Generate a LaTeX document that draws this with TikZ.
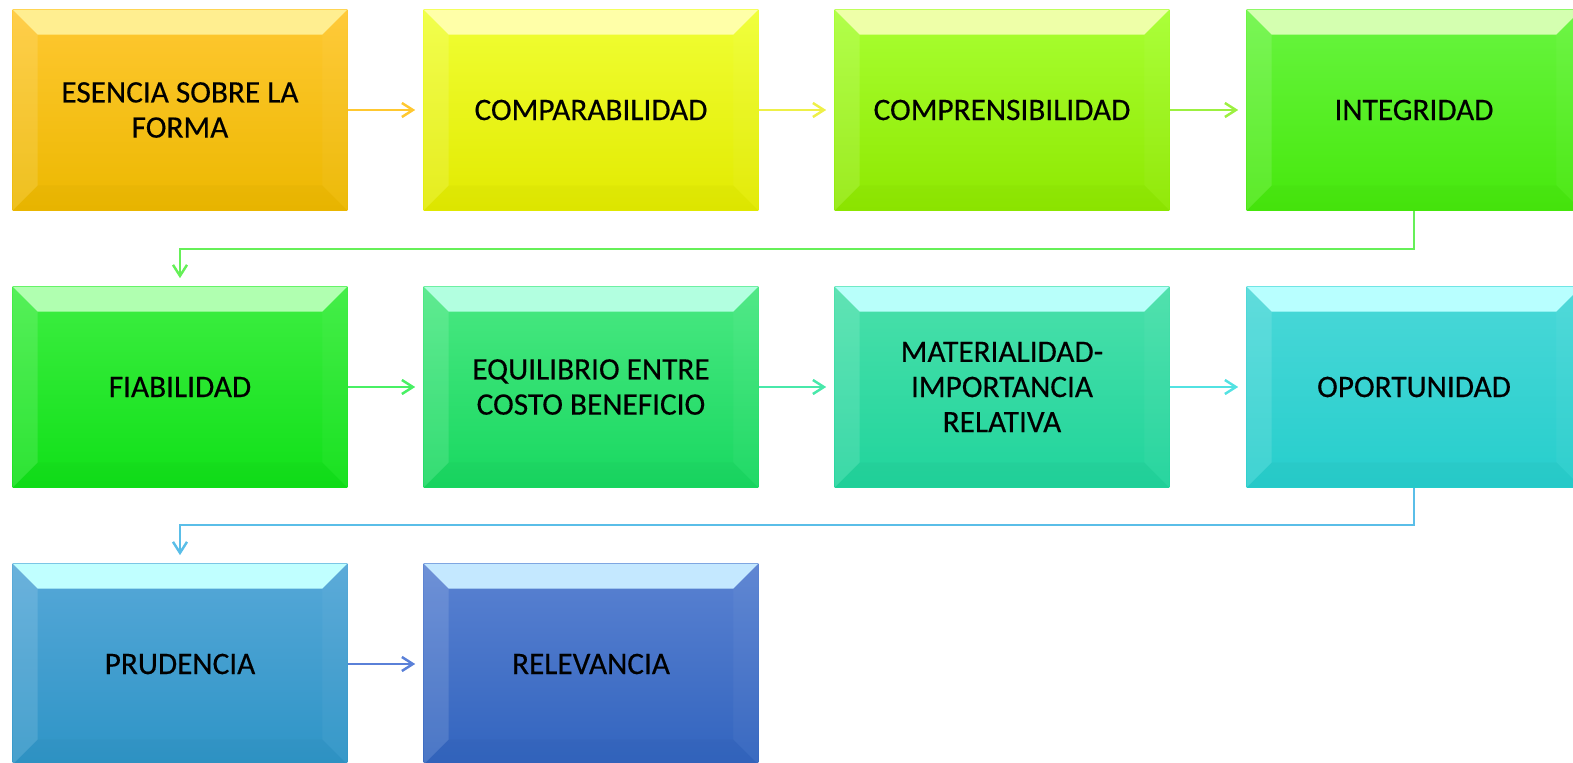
\documentclass[tikz,border=0pt]{standalone}
\usepackage{fontspec}
\setmainfont{Carlito}[FakeBold=0.35]
\usetikzlibrary{arrows.meta,calc}
\newcommand\bv{0.5cm}
% box colours: a = top of face, b = bottom of face, c = top bevel
\definecolor{esenA}{HTML}{FFC832}\definecolor{esenB}{HTML}{ECB800}\definecolor{esenC}{HTML}{FFEE90}
\definecolor{compA}{HTML}{F0FF35}\definecolor{compB}{HTML}{E2EA00}\definecolor{compC}{HTML}{FFFFA8}
\definecolor{prenA}{HTML}{A8FF32}\definecolor{prenB}{HTML}{8EE800}\definecolor{prenC}{HTML}{EEFFA8}
\definecolor{inteA}{HTML}{68F540}\definecolor{inteB}{HTML}{46E80C}\definecolor{inteC}{HTML}{D4FFB0}
\definecolor{fiabA}{HTML}{3EEE42}\definecolor{fiabB}{HTML}{10E018}\definecolor{fiabC}{HTML}{B0FFB0}
\definecolor{equiA}{HTML}{4AE882}\definecolor{equiB}{HTML}{18D860}\definecolor{equiC}{HTML}{B2FFE0}
\definecolor{mateA}{HTML}{4AE0AA}\definecolor{mateB}{HTML}{20D49C}\definecolor{mateC}{HTML}{B8FFFA}
\definecolor{oporA}{HTML}{4AD8D8}\definecolor{oporB}{HTML}{26CECC}\definecolor{oporC}{HTML}{B8FFFF}
\definecolor{prudA}{HTML}{56A8D8}\definecolor{prudB}{HTML}{2E94C6}\definecolor{prudC}{HTML}{C0FFFF}
\definecolor{releA}{HTML}{5A82D2}\definecolor{releB}{HTML}{3264BE}\definecolor{releC}{HTML}{C4E8FF}
% connector colours
\definecolor{l12}{HTML}{FFC830}\definecolor{l23}{HTML}{EEF048}\definecolor{l34}{HTML}{9CF040}
\definecolor{l45}{HTML}{66F058}\definecolor{l56}{HTML}{48F064}\definecolor{l67}{HTML}{48E8AA}
\definecolor{l78}{HTML}{52E2E2}\definecolor{l89}{HTML}{5ABEE8}\definecolor{l910}{HTML}{5A80D8}
\tikzset{
  bevelbox/.style n args={3}{rectangle,minimum width=6.7cm,minimum height=4.02cm,inner sep=0pt,
    top color=#1,bottom color=#2,align=center,text=black,font=\fontsize{17.8}{20}\selectfont,
    path picture={
      \coordinate (nw) at (path picture bounding box.north west);
      \coordinate (ne) at (path picture bounding box.north east);
      \coordinate (sw) at (path picture bounding box.south west);
      \coordinate (se) at (path picture bounding box.south east);
      \fill[#3] (nw) -- (ne) -- ++(-\bv,-\bv) -- ($(nw)+(\bv,-\bv)$) -- cycle;
      \fill[white,opacity=.12] (nw) -- ++(\bv,-\bv) -- ($(sw)+(\bv,\bv)$) -- (sw) -- cycle;
      \fill[white,opacity=.04] (ne) -- ++(-\bv,-\bv) -- ($(se)+(-\bv,\bv)$) -- (se) -- cycle;
      \fill[black,opacity=.02] (sw) -- ++(\bv,\bv) -- ($(se)+(-\bv,\bv)$) -- (se) -- cycle;
    }},
  link/.style={-{Straight Barb[length=2.2mm,width=2.8mm]},line width=1.4pt,shorten >=0.16cm}
}
\begin{document}
\begin{tikzpicture}[x=0.02cm,y=-0.02cm]%
        \useasboundingbox (0,0) rectangle (1573,763);%%
        \clip (0,0) rectangle (1573,763);%%
        %\draw[step=50,color=gray,very thin] (0,0) grid (1573,763);%%
        \node[bevelbox={esenA}{esenB}{esenC}] (esencia) at (180,110) {ESENCIA SOBRE LA\\FORMA}; %%
        \node[bevelbox={compA}{compB}{compC}] (compara) at (591,110) {COMPARABILIDAD}; %%
        \node[bevelbox={prenA}{prenB}{prenC}] (compren) at (1002,110) {COMPRENSIBILIDAD}; %%
        \node[bevelbox={inteA}{inteB}{inteC}] (integ) at (1414,110) {INTEGRIDAD}; %%
        \node[bevelbox={fiabA}{fiabB}{fiabC}] (fiab) at (180,387) {FIABILIDAD}; %%
        \node[bevelbox={equiA}{equiB}{equiC}] (equil) at (591,387) {EQUILIBRIO ENTRE\\COSTO BENEFICIO}; %%
        \node[bevelbox={mateA}{mateB}{mateC}] (mater) at (1002,387) {MATERIALIDAD-\\IMPORTANCIA\\RELATIVA}; %%
        \node[bevelbox={oporA}{oporB}{oporC}] (oport) at (1414,387) {OPORTUNIDAD}; %%
        \node[bevelbox={prudA}{prudB}{prudC}] (prud) at (180,664) {PRUDENCIA}; %%
        \node[bevelbox={releA}{releB}{releC}] (relev) at (591,664) {RELEVANCIA}; %%
        \draw[link,l12] (esencia)--(compara); %%
        \draw[link,l23] (compara)--(compren); %%
        \draw[link,l34] (compren)--(integ); %%
        \draw[link,l45] (integ.south)--++(0,38)-|(fiab.north); %%
        \draw[link,l56] (fiab)--(equil); %%
        \draw[link,l67] (equil)--(mater); %%
        \draw[link,l78] (mater)--(oport); %%
        \draw[link,l89] (oport.south)--++(0,37)-|(prud.north); %%
        \draw[link,l910] (prud)--(relev); %%
\end{tikzpicture}
\end{document}
